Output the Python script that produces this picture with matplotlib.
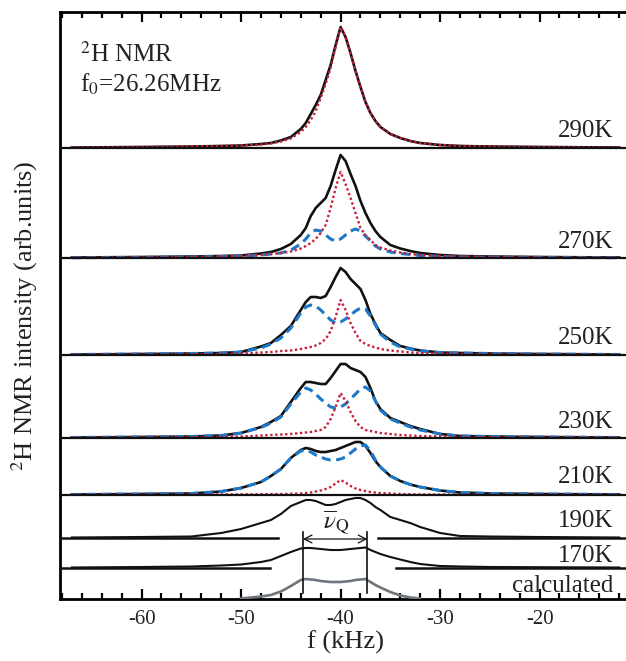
import numpy as np
import matplotlib
matplotlib.use("Agg")
import matplotlib.pyplot as plt
from matplotlib.ticker import MultipleLocator

plt.rcParams['font.family'] = ['Liberation Serif', 'DejaVu Serif']
plt.rcParams['mathtext.fontset'] = 'stix'
plt.rcParams['axes.unicode_minus'] = False

nan = float('nan')

# frequency grid (kHz)
freq = [-67, -60, -55, -52, -50, -48, -47, -46, -45, -44, -43.5, -43, -42.5, -42, -41.5,
        -41, -40.5, -40, -39.5, -39, -38.5, -38, -37.5, -37, -36.5, -36, -35, -34, -33,
        -32, -30, -28, -25, -20, -12]

temperatures = ['290K', '270K', '250K', '230K', '210K', '190K', '170K', 'calculated']

# measured spectra (black), arb. units
exp_290 = [0.5, 1, 1.5, 2, 2.5, 4, 5, 7.5, 11, 19, 25, 34, 43, 53, 68, 83, 103, 121, 111, 95,
           77, 61, 46, 35, 27, 21, 14, 10, 7, 5, 3, 2, 1.5, 1, 0.5]
exp_270 = [0.5, 1, 1.5, 2, 2.5, 4.5, 6, 9, 14, 23, 30, 42, 50, 55, 60, 72, 88, 103, 97, 84,
           72, 57, 45, 35, 27, 21, 13, 9.5, 7, 5, 3, 2, 1.5, 1, 0.5]
exp_250 = [0.5, 1, 1.5, 2, 3, 8.5, 12, 20, 29, 45, 53, 58, 58, 57, 59, 68, 78, 87, 83, 76,
           71, 66, 55, 41, 31, 22, 15, 9, 6.5, 4.5, 2.5, 2, 1.5, 1, 0.5]
exp_230 = [0.5, 1, 1.5, 2.5, 5, 11, 16, 22, 36, 50, 56, 56, 55, 54, 54, 60, 67, 74, 74, 70,
           68, 66, 61, 50, 37, 29, 20, 16, 12, 9, 4, 2, 1.5, 1, 0.5]
exp_210 = [0.5, 1, 1.5, 3.5, 7, 13, 19, 26, 37, 45, 47, 46, 44, 43, 43, 44, 45, 47, 49, 51,
           53, 53, 49, 42, 34, 28, 19, 14, 10.5, 8, 4.5, 2.5, 1.5, 1, 0.5]
exp_190 = [0.5, 1, 1.5, 5, 9, 15, 18, 24, 32, 36, 38, 38, 37, 35, 33, 33, 34, 36, 38, 39,
           40, 40, 38, 35, 31, 28, 21, 18, 15, 11, 5, 2, 1.5, 1, 0.5]
exp_170 = [0.5, 1, 1.5, 2.5, 3.5, 6, 8, 12, 16, 19.5, 20, 20, 19.5, 19, 18.5, 18, 18, 18,
           18.5, 19, 19.5, 20, 20.5, 18, 16, 14, 11, 8.5, 6, 4, 2, 1.5, 1, 0.8, 0.5]
calc = [nan, nan, nan, nan, 0.5, 2.5, 4, 7.5, 13, 19, 20, 19.5, 19, 18, 17.5, 17, 17, 17,
        17.5, 18, 19, 19.5, 20, 17, 14, 11.5, 7, 3.5, 1.5, 0.5, nan, nan, nan, nan, nan]

# fitted components: isotropic (red dotted) and Pake-like (blue dashed)
iso_290 = [0.5, 1, 1.5, 2, 2.5, 3.5, 4.5, 6.5, 9.5, 16, 21, 28, 37, 50, 64, 80, 101, 121, 111,
           95, 77, 61, 46, 35, 27, 21, 14, 10, 7, 5, 3, 2, 1.5, 1, 0.5]
iso_270 = [0.3, 0.5, 1, 1.5, 2, 3, 4, 5, 6.5, 9.5, 12, 15, 19, 25, 33, 50, 70, 86, 74, 60,
           45, 30, 23, 18, 13, 10.5, 7.5, 5.5, 4, 3, 2, 1.5, 1, 0.5, 0.3]
iso_250 = [0.3, 0.5, 0.8, 1, 1.5, 2.5, 3, 4, 4.5, 6, 7, 8, 9.5, 12, 16, 24, 38, 55, 45, 32,
           22, 14, 11, 9, 7.5, 6, 4.5, 3.5, 2.5, 2, 1.5, 1, 0.8, 0.5, 0.3]
iso_230 = [0.3, 0.5, 0.8, 1, 1.5, 2.5, 3, 3.5, 4, 5, 5.5, 6, 7, 8, 11, 19, 31, 45, 37, 26,
           17, 11, 8, 7, 6, 5, 4, 3, 2.5, 2, 1.5, 1, 0.8, 0.5, 0.3]
iso_210 = [0.2, 0.3, 0.4, 0.5, 0.6, 0.8, 0.9, 1, 1.2, 1.5, 2, 2.5, 3.5, 4.5, 6, 8, 11.5, 15,
           12.5, 9, 6.5, 5, 4, 3, 2.5, 2, 1.5, 1, 0.8, 0.6, 0.5, 0.4, 0.3, 0.3, 0.2]
pake_270 = [0.3, 0.5, 1, 1.5, 2, 3, 4, 5, 8, 14, 19, 25, 28, 27, 23, 19, 17, 19, 23, 27,
            29, 27, 22, 17, 12, 9, 6, 4.5, 3.5, 2.5, 1.5, 1, 0.8, 0.5, 0.3]
pake_250 = [0.5, 1, 1.5, 2, 3, 7, 11, 17, 27, 42, 48, 50, 49, 45, 40, 35, 32, 33, 36, 40,
            44, 47, 46, 39, 30, 21, 13, 8, 6, 4, 2.5, 2, 1.5, 1, 0.5]
pake_230 = [0.5, 1, 1.5, 2.5, 5, 10.5, 15, 21, 34, 46, 50, 48, 44, 39, 35, 31, 30, 31, 34,
            39, 44, 49, 51, 47, 37, 28, 19, 15, 11, 8, 4, 2, 1.5, 1, 0.5]
pake_210 = [0.5, 1, 1.5, 3.5, 7, 13, 19, 26, 37, 44, 45, 43, 40, 38, 36, 35, 35, 36, 38, 42,
            46, 49, 50, 44, 35, 28, 19, 14, 10.5, 8, 4.5, 2.5, 1.5, 1, 0.5]

# layout (vertical offsets of each trace, label heights)
offsets = [451, 341, 244, 161, 104, 61, 31, 0]
label_y = [462, 351, 255, 171, 116, 72, 37, 7]
nuq_edges = [-43.8, -37.3]

BLACK = '#111111'
RED = '#c8203a'
BLUE = '#1e78c8'
GRAY = '#6e757c'
TEXT = '#222222'

XMIN, XMAX = -68.2, -10.3

fig = plt.figure(figsize=(6.26, 6.61), dpi=100)
ax = fig.add_axes([60 / 626, 62 / 661, (XMAX - XMIN) * 9.95 / 626, 587 / 661])
ax.set_xlim(XMIN, XMAX)
ax.set_ylim(0, 587)

f = np.array(freq)
exps = [exp_290, exp_270, exp_250, exp_230, exp_210, exp_190, exp_170]
isos = {0: iso_290, 1: iso_270, 2: iso_250, 3: iso_230, 4: iso_210}
pakes = {1: pake_270, 2: pake_250, 3: pake_230, 4: pake_210}

# separators / baselines
for i in range(5):
    ax.axhline(offsets[i], color=BLACK, lw=1.6, zorder=4)
ax.plot([XMIN, -46.3], [offsets[5]] * 2, color=BLACK, lw=1.8, zorder=4)
ax.plot([-36.2, XMAX], [offsets[5]] * 2, color=BLACK, lw=1.8, zorder=4)
ax.plot([XMIN, -47.1], [offsets[6]] * 2, color=BLACK, lw=1.8, zorder=4)
ax.plot([-34.4, XMAX], [offsets[6]] * 2, color=BLACK, lw=1.8, zorder=4)

for i, y in enumerate(exps):
    lw = 1.9 if i < 5 else 1.5
    ax.plot(f, offsets[i] + np.array(y), color=BLACK, lw=lw, zorder=3,
            solid_joinstyle='round')
for i, y in pakes.items():
    ax.plot(f, offsets[i] + np.array(y), color=BLUE, lw=2.2,
            linestyle=(0, (3, 1.8)), zorder=3.5)
for i, y in isos.items():
    ax.plot(f, offsets[i] + np.array(y), color=RED, lw=1.7,
            linestyle=(0, (1, 1.1)), zorder=3.6)
ax.plot(f, offsets[7] + np.array(calc), color=GRAY, lw=1.9, zorder=3)

# temperature labels
for t, ly in zip(temperatures, label_y):
    ax.text(-12.6, ly, t, ha='right', va='baseline', fontsize=18, color=TEXT)

# nu_Q marker
for x in nuq_edges:
    ax.plot([x, x], [6, 67], color=BLACK, lw=1.2, zorder=5)
ax.annotate('', xy=(nuq_edges[0], 60), xytext=(nuq_edges[1], 60),
            arrowprops=dict(arrowstyle='<->', color=BLACK, lw=0.9,
                            shrinkA=0, shrinkB=0, mutation_scale=14), zorder=5)
ax.text(-40.4, 77, r'$\overline{\nu}_{\mathrm{Q}}$', ha='center', va='center',
        fontsize=18, color=TEXT)

# annotations
ax.text(-66.2, 537, r'$^{2}$H NMR', fontsize=18, va='baseline', ha='left', color=TEXT)
ax.text(-66.2, 507, r'f$_{0}$=26.26MHz', fontsize=18, va='baseline', ha='left', color=TEXT)

# axes styling
ax.spines['right'].set_visible(False)
ax.spines['left'].set_linewidth(2.0)
ax.spines['bottom'].set_linewidth(2.0)
ax.spines['top'].set_linewidth(2.0)
ax.set_yticks([])
ax.xaxis.set_major_locator(MultipleLocator(10))
ax.xaxis.set_minor_locator(MultipleLocator(2))
ax.tick_params(axis='x', which='both', direction='in', top=True, bottom=True,
               width=1.6, labelsize=15, pad=8)
ax.tick_params(axis='x', which='major', length=7)
ax.tick_params(axis='x', which='minor', length=4)
for lab in ax.get_xticklabels():
    lab.set_color(TEXT)

ax.set_xlabel('f (kHz)', fontsize=19, color=TEXT)
ax.xaxis.set_label_coords(0.495, -0.053)
ax.set_ylabel(r'$^{2}$H NMR intensity (arb.units)', fontsize=19, color=TEXT)
ax.yaxis.set_label_coords(-0.035, 0.482)

fig.savefig('out.png', dpi=100)
